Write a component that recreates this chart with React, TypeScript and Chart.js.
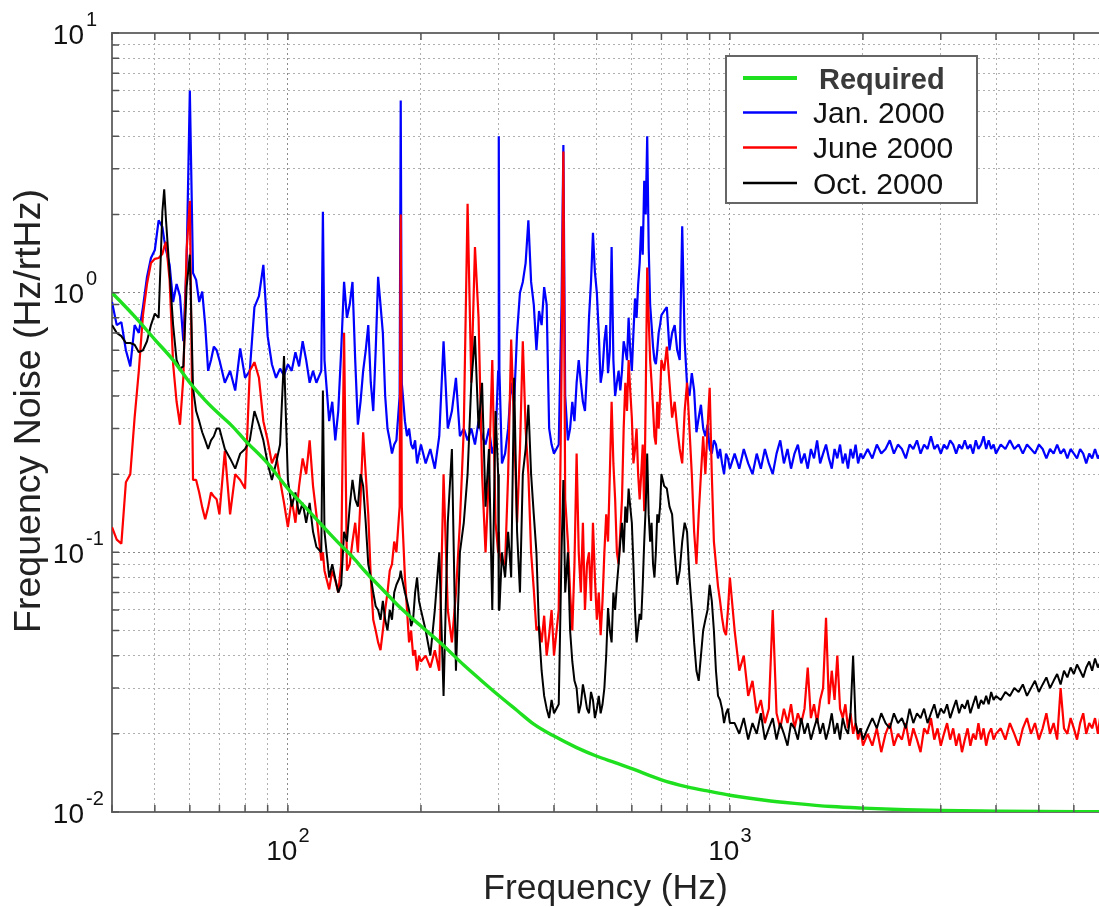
import React, { useEffect, useRef } from 'react';
import { Chart, registerables } from 'chart.js';

Chart.register(...registerables);

const FONT = '"Liberation Sans", Arial, Helvetica, sans-serif';

// Shared frequency bins (Hz) for the three measured spectra
const freqHz = [
  40, 41, 42, 43, 44, 45, 46, 47, 48, 49, 50, 51, 52, 52.5, 53, 54, 55, 56, 57, 58, 59, 60, 61, 62, 63, 64, 65, 66, 67, 68, 69, 70,
  72, 74, 76, 78, 80, 82, 84, 86, 88, 90, 92, 94, 96, 98, 100,
  102, 104, 106, 108, 110, 112, 114, 116, 119, 120, 121, 124, 126, 128, 130, 132, 134, 136,
  138, 140, 142, 144, 146, 148, 150, 152, 154, 156, 158, 160, 162, 164, 166, 168, 170, 172, 174, 176,
  179, 180, 181,
  184, 186, 188, 190, 192, 194, 196, 198, 200,
  205, 210, 215, 220, 225, 230, 235, 240, 245, 250, 255, 260, 265, 270, 275, 280, 285, 290, 295,
  299, 300, 301,
  305, 310, 315, 320, 325, 330, 335, 340, 345, 350, 355, 360, 365, 370, 375, 380, 385, 390, 395, 400,
  410, 416, 420, 424,
  430, 435, 440, 445, 450, 455, 460, 465, 470, 475, 480, 485, 490, 495, 500, 505, 510, 515, 520, 525,
  530, 535, 540, 545, 550, 555, 560, 565, 570, 575, 580, 585, 590, 595, 600, 605, 610, 615, 620, 625,
  630, 635, 640, 645, 650, 655, 660, 665, 670, 675, 680, 685, 690, 695, 700,
  710, 720, 730, 740, 750, 760, 770, 780, 790, 800, 810, 820, 830, 840, 850,
  860, 870, 880, 890, 900, 910, 920, 930, 940, 950, 960, 970, 980, 990, 1000,
  1025, 1050, 1075, 1100, 1125, 1150, 1175, 1200, 1225, 1250, 1275, 1300, 1325, 1350, 1375, 1400, 1425, 1450, 1475, 1500,
  1525, 1550, 1575, 1600, 1625, 1650, 1675, 1700, 1725, 1750, 1775, 1800, 1825, 1850, 1875, 1900, 1925, 1950, 1975, 2000,
  2050, 2100, 2150, 2200, 2250, 2300, 2350, 2400, 2450, 2500, 2550, 2600, 2650, 2700, 2750, 2800, 2850, 2900, 2950, 3000,
  3050, 3100, 3150, 3200, 3250, 3300, 3350, 3400, 3450, 3500, 3550, 3600, 3650, 3700, 3750, 3800, 3850, 3900, 3950, 4000,
  4100, 4200, 4300, 4400, 4500, 4600, 4700, 4800, 4900, 5000, 5100, 5200, 5300, 5400, 5500,
  5600, 5700, 5800, 5900, 6000, 6100, 6200, 6300, 6400, 6500, 6600, 6700, 6800, 6900, 7000,
];

// Jan. 2000 (blue)
const janNoise = [
  0.92, 0.75, 0.77, 0.6, 0.52, 0.75, 0.7, 0.88, 1.15, 1.36, 1.46, 1.9, 1.79, 1.6, 1.46, 1.28, 0.92, 1.08, 0.97, 0.65, 1.3, 6.0, 1.19, 1.12, 0.92, 1.01, 0.75, 0.5, 0.55, 0.62, 0.6, 0.55,
  0.45, 0.5, 0.42, 0.61, 0.47, 0.5, 0.88, 0.97, 1.28, 0.68, 0.53, 0.47, 0.51, 0.48, 0.53,
  0.5, 0.59, 0.52, 0.65, 0.55, 0.45, 0.5, 0.45, 0.5, 2.05, 0.55, 0.32, 0.38, 0.27, 0.35, 0.6, 1.1, 0.8,
  0.9, 1.1, 0.55, 0.31, 0.38, 0.5, 0.6, 0.75, 0.45, 0.35, 0.6, 1.15, 0.9, 0.7, 0.4, 0.3, 0.27, 0.24, 0.26, 0.27,
  0.4, 5.5, 0.45,
  0.32, 0.28, 0.3, 0.26, 0.25, 0.27, 0.22, 0.24, 0.26,
  0.22, 0.25, 0.21, 0.28, 0.65, 0.3, 0.35, 0.47, 0.28, 0.3, 0.27, 0.3, 0.26, 0.32, 0.28, 0.26, 0.3, 0.24, 0.27,
  0.5, 4.0, 0.5,
  0.22, 0.24, 0.3, 0.45, 0.38, 0.7, 1.0, 1.1, 1.3, 1.9, 1.1, 0.9, 0.6, 0.85, 0.75, 1.05, 0.9, 0.3, 0.26, 0.24,
  0.26, 0.9, 3.7, 0.4,
  0.27, 0.3, 0.38, 0.32, 0.45, 0.55, 0.45, 0.38, 0.35, 0.5, 0.8, 1.1, 1.7, 1.2, 1.0, 0.7, 0.45, 0.5, 0.65, 0.75,
  0.49, 0.6, 1.5, 0.55, 0.4, 0.45, 0.5, 0.42, 0.5, 0.65, 0.6, 0.55, 0.8, 0.6, 0.5, 0.7, 0.95, 0.8, 1.07, 1.3,
  1.8, 1.4, 2.7, 2.0, 4.0, 1.5, 0.9, 0.75, 0.62, 0.55, 0.53, 0.6, 0.7, 0.75, 0.82,
  0.85, 0.88, 0.6, 0.7, 0.75, 0.6, 0.55, 1.8, 0.65, 0.44, 0.4, 0.49, 0.42, 0.29, 0.33,
  0.37, 0.3, 0.28, 0.31, 0.25, 0.24, 0.27, 0.26, 0.23, 0.25, 0.22, 0.2, 0.24, 0.23, 0.21,
  0.24, 0.21, 0.25, 0.22, 0.2, 0.24, 0.21, 0.25, 0.22, 0.2, 0.24, 0.27, 0.22, 0.25, 0.21, 0.24, 0.26, 0.22, 0.24, 0.21,
  0.25, 0.23, 0.27, 0.22, 0.24, 0.26, 0.23, 0.21, 0.25, 0.23, 0.26, 0.22, 0.24, 0.21, 0.25, 0.23, 0.26, 0.22, 0.24, 0.23,
  0.25, 0.23, 0.26, 0.24, 0.25, 0.27, 0.24, 0.26, 0.25, 0.23, 0.26, 0.25, 0.27, 0.24, 0.26, 0.25, 0.28, 0.25, 0.26, 0.24,
  0.26, 0.25, 0.27, 0.26, 0.24, 0.26, 0.25, 0.27, 0.25, 0.26, 0.24, 0.27, 0.25, 0.26, 0.28, 0.25, 0.27, 0.25, 0.26, 0.24,
  0.26, 0.25, 0.27, 0.25, 0.26, 0.24, 0.26, 0.25, 0.24, 0.26, 0.25, 0.23, 0.25, 0.24, 0.26,
  0.24, 0.25, 0.23, 0.25, 0.24, 0.23, 0.25, 0.24, 0.22, 0.24, 0.23, 0.25, 0.23, 0.24, 0.23,
];

// June 2000 (red)
const juneNoise = [
  0.125, 0.112, 0.108, 0.186, 0.2, 0.33, 0.5, 0.82, 1.08, 1.3, 1.35, 1.36, 1.41, 1.5, 1.57, 1.12, 0.53, 0.38, 0.31, 0.47, 1.46, 2.26, 0.19, 0.19, 0.17, 0.149, 0.134, 0.149, 0.17, 0.164, 0.16, 0.14,
  0.246, 0.14, 0.2, 0.19, 0.176, 0.5, 0.54, 0.47, 0.32, 0.27, 0.22, 0.24, 0.19, 0.155, 0.125,
  0.16, 0.13, 0.18, 0.23, 0.2, 0.27, 0.18, 0.14, 0.093, 0.1, 0.085, 0.072, 0.085, 0.078, 0.07, 0.09, 0.7, 0.085,
  0.09, 0.11, 0.13, 0.1, 0.16, 0.29, 0.2, 0.14, 0.08, 0.055, 0.05, 0.045, 0.042, 0.05, 0.06, 0.07, 0.085, 0.09, 0.11, 0.1,
  0.15, 2.0, 0.15,
  0.08, 0.06, 0.045, 0.05, 0.04, 0.042, 0.035, 0.04, 0.038,
  0.04, 0.036, 0.042, 0.035, 0.2, 0.06, 0.045, 0.07, 0.13, 0.3, 2.2, 0.45, 1.5, 0.8, 0.2, 0.1, 0.2, 0.55, 0.13,
  0.1, 0.12, 0.1,
  0.09, 0.09, 0.2, 0.66, 0.3, 0.13, 0.25, 0.65, 0.3, 0.2, 0.1, 0.072, 0.05, 0.052, 0.045, 0.057, 0.04, 0.048, 0.06, 0.04,
  0.06, 0.5, 3.5, 0.16,
  0.11, 0.07, 0.05, 0.09, 0.24, 0.1, 0.07, 0.13, 0.06, 0.09, 0.1, 0.065, 0.13, 0.08, 0.055, 0.07, 0.048, 0.065, 0.1, 0.14,
  0.11, 0.2, 0.38, 0.22, 0.16, 0.1, 0.09, 0.12, 0.16, 0.3, 0.45, 0.35, 0.55, 0.42, 0.33, 0.22, 0.25, 0.3, 0.2, 0.16,
  0.2, 0.26, 0.144, 0.4, 1.25, 0.8, 0.55, 0.45, 0.36, 0.28, 0.26, 0.38, 0.3, 0.4, 0.55,
  0.5, 0.62, 0.45, 0.33, 0.38, 0.3, 0.25, 0.22, 0.35, 0.45, 0.3, 0.2, 0.12, 0.09, 0.14,
  0.2, 0.28, 0.2, 0.3, 0.43, 0.2, 0.11, 0.09, 0.074, 0.065, 0.056, 0.05, 0.048, 0.06, 0.08,
  0.05, 0.035, 0.04, 0.028, 0.032, 0.024, 0.027, 0.022, 0.025, 0.06, 0.024, 0.021, 0.025, 0.022, 0.026, 0.021, 0.024, 0.022, 0.025, 0.036,
  0.023, 0.026, 0.022, 0.027, 0.03, 0.056, 0.026, 0.035, 0.027, 0.04, 0.025, 0.023, 0.026, 0.021, 0.024, 0.02, 0.022, 0.019, 0.021, 0.018,
  0.02, 0.018, 0.021, 0.017, 0.02, 0.022, 0.018, 0.02, 0.019, 0.022, 0.018, 0.021, 0.019, 0.017, 0.021, 0.02, 0.023, 0.019, 0.021, 0.018,
  0.02, 0.022, 0.019, 0.021, 0.018, 0.02, 0.017, 0.019, 0.021, 0.018, 0.02, 0.019, 0.022, 0.019, 0.021, 0.018, 0.02, 0.021, 0.019, 0.02,
  0.021, 0.019, 0.022, 0.02, 0.018, 0.021, 0.023, 0.02, 0.022, 0.019, 0.021, 0.024, 0.02, 0.022, 0.019,
  0.03, 0.021, 0.02, 0.023, 0.021, 0.019, 0.022, 0.024, 0.02, 0.022, 0.021, 0.023, 0.02, 0.024, 0.022,
];

// Oct. 2000 (black)
const octNoise = [
  0.75, 0.7, 0.68, 0.64, 0.64, 0.63, 0.59, 0.6, 0.65, 0.75, 0.83, 0.8, 2.05, 2.5, 1.9, 1.19, 0.75, 0.55, 0.51, 0.52, 1.05, 1.4, 0.43, 0.35, 0.32, 0.29, 0.27, 0.25, 0.27, 0.28, 0.3, 0.3,
  0.25, 0.23, 0.21, 0.24, 0.25, 0.27, 0.35, 0.31, 0.27, 0.22, 0.19, 0.22, 0.26, 0.57, 0.19,
  0.15, 0.17, 0.14, 0.155, 0.13, 0.155, 0.12, 0.105, 0.1, 0.42, 0.12, 0.08, 0.09, 0.079, 0.07, 0.075, 0.12, 0.11,
  0.15, 0.19, 0.16, 0.15, 0.2, 0.18, 0.13, 0.09, 0.08, 0.07, 0.062, 0.06, 0.055, 0.065, 0.055, 0.05, 0.06, 0.055, 0.07, 0.075,
  0.08, 0.085, 0.08,
  0.07, 0.065, 0.06, 0.052, 0.055, 0.07, 0.08, 0.065, 0.06,
  0.05, 0.04, 0.06, 0.1, 0.028, 0.13, 0.25, 0.035, 0.1, 0.13, 0.2, 0.45, 0.68, 0.3, 0.45, 0.15, 0.25, 0.06, 0.35,
  0.2, 0.06, 0.06,
  0.1, 0.08, 0.12, 0.08, 0.47, 0.12, 0.07, 0.2, 0.25, 0.37, 0.2, 0.14, 0.1, 0.05, 0.035, 0.028, 0.025, 0.023, 0.027, 0.024,
  0.026, 0.1, 0.19, 0.07,
  0.1, 0.05, 0.038, 0.032, 0.03, 0.024, 0.026, 0.031, 0.028, 0.025, 0.024, 0.029, 0.027, 0.023, 0.025, 0.028, 0.024, 0.026, 0.03, 0.04,
  0.061, 0.05, 0.045, 0.07, 0.06, 0.075, 0.09, 0.11, 0.13, 0.1, 0.15, 0.13, 0.176, 0.15, 0.13, 0.09, 0.06, 0.045, 0.051, 0.058,
  0.055, 0.075, 0.11, 0.15, 0.24, 0.14, 0.11, 0.13, 0.09, 0.08, 0.1, 0.14, 0.13, 0.15, 0.2,
  0.18, 0.176, 0.15, 0.14, 0.1, 0.075, 0.085, 0.11, 0.13, 0.12, 0.08, 0.061, 0.045, 0.035, 0.032,
  0.04, 0.05, 0.055, 0.06, 0.075, 0.065, 0.05, 0.035, 0.028, 0.027, 0.025, 0.022, 0.024, 0.025, 0.022,
  0.022, 0.02, 0.023, 0.019, 0.022, 0.02, 0.024, 0.019, 0.021, 0.023, 0.019, 0.022, 0.02, 0.018, 0.022, 0.021, 0.019, 0.023, 0.02, 0.022,
  0.019, 0.021, 0.023, 0.02, 0.022, 0.019, 0.021, 0.024, 0.02, 0.022, 0.019, 0.023, 0.021, 0.02, 0.024, 0.04, 0.022, 0.02, 0.021, 0.019,
  0.021, 0.023, 0.021, 0.024, 0.022, 0.021, 0.024, 0.022, 0.023, 0.021, 0.025, 0.022, 0.024, 0.023, 0.025, 0.022, 0.024, 0.026, 0.023, 0.025,
  0.024, 0.026, 0.023, 0.025, 0.027, 0.024, 0.026, 0.025, 0.027, 0.024, 0.026, 0.028, 0.025, 0.027, 0.026, 0.028, 0.026, 0.029, 0.027, 0.028,
  0.027, 0.029, 0.028, 0.03, 0.029, 0.031, 0.028, 0.03, 0.032, 0.029, 0.031, 0.033, 0.03, 0.032, 0.034,
  0.031, 0.035, 0.033, 0.036, 0.034, 0.037, 0.035, 0.033, 0.036, 0.038, 0.035, 0.039, 0.036, 0.038, 0.037,
];

// Required curve (green)
const reqFreqHz = [40, 45, 50, 55, 60, 65, 70, 75, 80, 90, 100, 110, 120, 130, 140, 150, 165, 180, 200, 225, 250, 275, 300, 330, 360, 400, 450, 500, 550, 600, 700, 800, 900, 1000, 1200, 1400, 1700, 2000, 2500, 3000, 4000, 5000, 7000];
const reqNoise = [1.0, 0.81, 0.66, 0.55, 0.45, 0.385, 0.34, 0.305, 0.27, 0.22, 0.176, 0.148, 0.126, 0.109, 0.096, 0.084, 0.071, 0.061, 0.052, 0.0437, 0.0368, 0.0319, 0.0281, 0.0246, 0.0218, 0.0196, 0.0177, 0.0164, 0.0155, 0.0147, 0.0133, 0.0125, 0.012, 0.0116, 0.0111, 0.0108, 0.0105, 0.01035, 0.0102, 0.01013, 0.01008, 0.01005, 0.01003];

const seriesLabels = ['Required', 'Jan. 2000', 'June 2000', 'Oct. 2000'];
const seriesColors = ['#1fe01f', '#0000ff', '#ff0000', '#000000'];

// Axis grid / tick values
const xGridValues = [40, 50, 60, 70, 80, 90, 100, 200, 300, 400, 500, 600, 700, 800, 900, 1000, 2000, 3000, 4000, 5000, 6000];
const yGridValues = [0.01, 0.02, 0.03, 0.04, 0.05, 0.06, 0.07, 0.08, 0.09, 0.1, 0.2, 0.3, 0.4, 0.5, 0.6, 0.7, 0.8, 0.9, 1, 2, 3, 4, 5, 6, 7, 8, 9, 10];
const xLabelValues = [100, 1000];
const xLabelExps = ['2', '3'];
const yLabelValues = [10, 1, 0.1, 0.01];
const yLabelExps = ['1', '0', '-1', '-2'];

const xTitle = 'Frequency (Hz)';
const yTitle = 'Frequency Noise (Hz/rtHz)';

function isDecade(v: number | undefined) {
  if (!v) return false;
  const l = Math.log10(v);
  return Math.abs(l - Math.round(l)) < 1e-9;
}

function pairs(xs: number[], ys: number[]) {
  const n = Math.min(xs.length, ys.length);
  const out: { x: number; y: number }[] = [];
  for (let i = 0; i < n; i++) out.push({ x: xs[i], y: ys[i] });
  return out;
}

const decorPlugin = {
  id: 'decor',
  afterDatasetsDraw(chart: any) {
    const { ctx, chartArea: a, scales } = chart;
    const xs = scales.x;
    const ys = scales.y;
    ctx.save();
    ctx.strokeStyle = '#6e6e6e';
    ctx.lineWidth = 2;
    ctx.beginPath();
    ctx.moveTo(a.left - 1, a.top);
    ctx.lineTo(a.right, a.top);
    ctx.stroke();
    ctx.strokeStyle = '#555';
    ctx.lineWidth = 1.5;
    ctx.beginPath();
    xGridValues.forEach((v) => {
      const px = xs.getPixelForValue(v);
      ctx.moveTo(px, a.bottom);
      ctx.lineTo(px, a.bottom - 7);
      ctx.moveTo(px, a.top);
      ctx.lineTo(px, a.top + 7);
    });
    yGridValues.forEach((v) => {
      const py = ys.getPixelForValue(v);
      ctx.moveTo(a.left, py);
      ctx.lineTo(a.left + 7, py);
    });
    ctx.stroke();
    ctx.restore();
  },
  afterDraw(chart: any) {
    const { ctx, chartArea: a, scales } = chart;
    const xs = scales.x;
    const ys = scales.y;
    ctx.save();
    ctx.fillStyle = '#111';
    ctx.textBaseline = 'alphabetic';
    // x tick labels
    xLabelValues.forEach((v, i) => {
      const px = xs.getPixelForValue(v);
      ctx.font = `28px ${FONT}`;
      const wb = ctx.measureText('10').width;
      ctx.font = `20px ${FONT}`;
      const we = ctx.measureText(xLabelExps[i]).width;
      const start = px - (wb + 1 + we) / 2;
      ctx.textAlign = 'left';
      ctx.font = `28px ${FONT}`;
      ctx.fillText('10', start, a.bottom + 48);
      ctx.font = `20px ${FONT}`;
      ctx.fillText(xLabelExps[i], start + wb + 1, a.bottom + 30);
    });
    // y tick labels
    yLabelValues.forEach((v, i) => {
      const py = ys.getPixelForValue(v);
      ctx.font = `28px ${FONT}`;
      ctx.textAlign = 'right';
      ctx.fillText('10', 84, py + 10.5);
      ctx.font = `20px ${FONT}`;
      ctx.textAlign = 'left';
      ctx.fillText(yLabelExps[i], 86, py - 7.5);
    });
    // axis titles
    ctx.fillStyle = '#222';
    ctx.font = `35.5px ${FONT}`;
    ctx.textAlign = 'center';
    ctx.fillText(xTitle, (a.left + a.right) / 2, 899);
    ctx.save();
    ctx.translate(40, 411);
    ctx.rotate(-Math.PI / 2);
    ctx.font = `37.5px ${FONT}`;
    ctx.fillText(yTitle, 0, 0);
    ctx.restore();
    // legend
    const lx = 726, ly = 56, lw = 251, lh = 147;
    ctx.fillStyle = '#ffffff';
    ctx.fillRect(lx, ly, lw, lh);
    ctx.strokeStyle = '#666';
    ctx.lineWidth = 2;
    ctx.strokeRect(lx, ly, lw, lh);
    const rowY = [78, 112.5, 147.5, 183];
    chart.data.datasets.forEach((ds: any, i: number) => {
      const y = rowY[i];
      ctx.strokeStyle = ds.borderColor;
      ctx.lineWidth = i === 0 ? 4 : 2.5;
      ctx.beginPath();
      ctx.moveTo(743, y);
      ctx.lineTo(797, y);
      ctx.stroke();
      ctx.textAlign = 'left';
      if (i === 0) {
        ctx.font = `bold 29px ${FONT}`;
        ctx.fillStyle = '#3a3a3a';
        ctx.fillText(ds.label, 819, y + 10.5);
      } else {
        ctx.font = `30px ${FONT}`;
        ctx.fillStyle = '#111';
        ctx.fillText(ds.label, 813, y + 10.5);
      }
    });
    ctx.restore();
  },
};

export default function App() {
  const canvasRef = useRef<HTMLCanvasElement | null>(null);

  useEffect(() => {
    if (!canvasRef.current) return;
    const gridColor = (c: any) => (isDecade(c.tick && c.tick.value) ? '#8a8a8a' : '#b0b0b0');
    const chart = new Chart(canvasRef.current, {
      type: 'line',
      data: {
        datasets: [
          { label: seriesLabels[0], data: pairs(reqFreqHz, reqNoise), borderColor: seriesColors[0], borderWidth: 3.4, pointRadius: 0, order: 0, borderJoinStyle: 'round', cubicInterpolationMode: 'monotone' },
          { label: seriesLabels[1], data: pairs(freqHz, janNoise), borderColor: seriesColors[1], borderWidth: 2.2, pointRadius: 0, order: 3, borderJoinStyle: 'bevel' },
          { label: seriesLabels[2], data: pairs(freqHz, juneNoise), borderColor: seriesColors[2], borderWidth: 2.2, pointRadius: 0, order: 2, borderJoinStyle: 'bevel' },
          { label: seriesLabels[3], data: pairs(freqHz, octNoise), borderColor: seriesColors[3], borderWidth: 2.0, pointRadius: 0, order: 1, borderJoinStyle: 'bevel' },
        ],
      } as any,
      options: {
        responsive: false,
        animation: false,
        layout: { padding: { top: 33, right: 0, bottom: 0, left: 0 } },
        plugins: { legend: { display: false }, tooltip: { enabled: false } },
        scales: {
          x: {
            type: 'logarithmic',
            position: 'bottom',
            min: 40,
            max: 6840,
            afterBuildTicks: (s: any) => {
              s.ticks = xGridValues.map((v) => ({ value: v }));
            },
            afterFit: (s: any) => {
              s.height = 95;
            },
            ticks: { display: false },
            grid: { color: gridColor, lineWidth: 1, drawTicks: false },
            border: { display: true, color: '#6e6e6e', width: 2, dash: [2, 3] },
          },
          y: {
            type: 'logarithmic',
            position: 'left',
            min: 0.01,
            max: 10,
            afterBuildTicks: (s: any) => {
              s.ticks = yGridValues.map((v) => ({ value: v }));
            },
            afterFit: (s: any) => {
              s.width = 112;
            },
            ticks: { display: false },
            grid: { color: gridColor, lineWidth: 1, drawTicks: false },
            border: { display: true, color: '#6e6e6e', width: 2, dash: [2, 3] },
          },
        },
      } as any,
      plugins: [decorPlugin as any],
    });
    return () => chart.destroy();
  }, []);

  return (
    <div style={{ position: 'absolute', left: 0, top: 0, width: 1099, height: 907, background: '#fff' }}>
      <canvas ref={canvasRef} width={1099} height={907} style={{ display: 'block' }} />
    </div>
  );
}
